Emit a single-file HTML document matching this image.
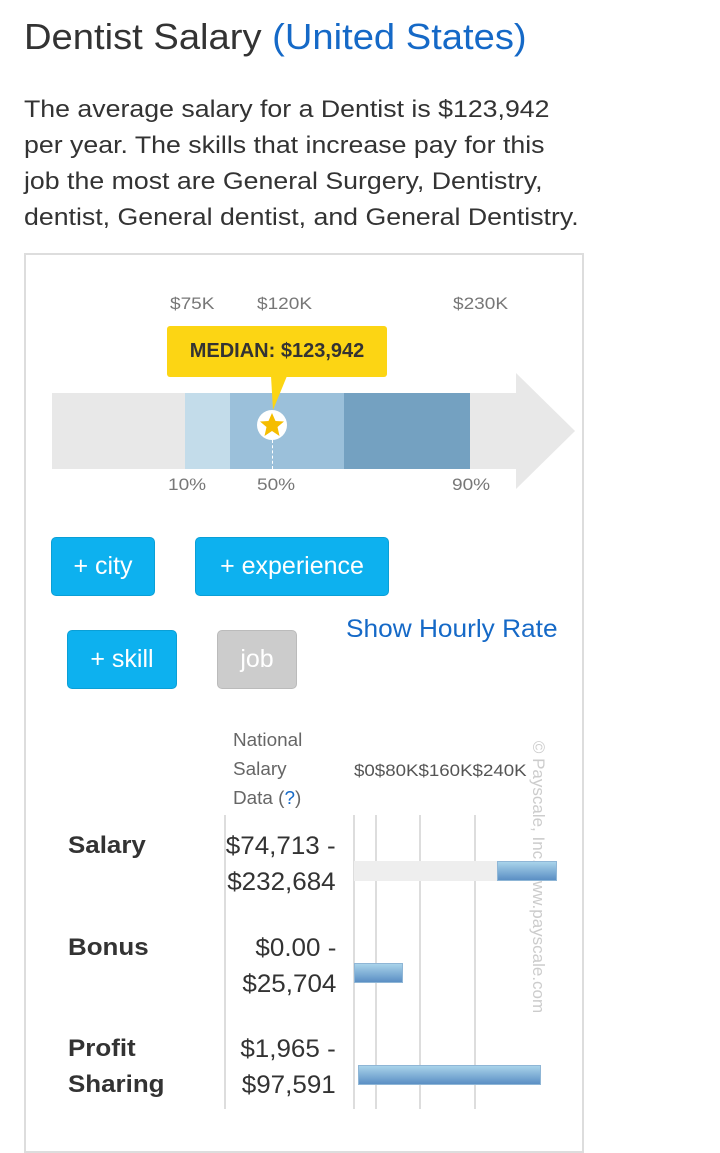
<!DOCTYPE html>
<html><head><meta charset="utf-8"><style>
*{margin:0;padding:0;box-sizing:border-box}
body{width:720px;height:1109px;background:#fff;position:relative;overflow:hidden;font-family:"Liberation Sans",sans-serif;color:#333}
.a{position:absolute;white-space:nowrap}
.btn{position:absolute;background:#0db1ef;border:1px solid #0a9fd6;border-radius:5px;color:#fff;font-size:25px;display:flex;align-items:center;justify-content:center}
.lbl{position:absolute;font-size:17px;color:#777;white-space:nowrap;transform:scaleX(1.12);transform-origin:left}
.vl{position:absolute;width:2px;background:#ddd;top:815px;height:294px}
.bar{position:absolute;background:linear-gradient(#a9d3ea,#5b8fc4);border:1px solid #8fb6d6}
.val{position:absolute;right:384px;font-size:25px;text-align:right;line-height:36px;color:#333;transform:scaleX(1.04);transform-origin:right}
.rl{position:absolute;left:68px;font-size:24px;font-weight:bold;line-height:36px;color:#333;transform:scaleX(1.08);transform-origin:left}
</style></head><body>
<div class="a" style="left:24px;top:16px;font-size:36px;color:#333;transform:scaleX(1.06);transform-origin:left">Dentist Salary <span style="color:#1569c7">(United States)</span></div>
<div class="a" style="left:24px;top:92px;font-size:24.5px;line-height:36px;color:#333;transform:scaleX(1.09);transform-origin:left">The average salary for a Dentist is $123,942<br>per year. The skills that increase pay for this<br>job the most are General Surgery, Dentistry,<br>dentist, General dentist, and General Dentistry.</div>

<div style="position:absolute;left:24px;top:253px;width:560px;height:900px;border:2px solid #ddd"></div>

<div class="lbl" style="left:170px;top:294px">$75K</div>
<div class="lbl" style="left:257px;top:294px">$120K</div>
<div class="lbl" style="left:453px;top:294px">$230K</div>

<div style="position:absolute;left:52px;top:393px;width:464px;height:76px;background:#e8e8e8"></div>
<div style="position:absolute;left:516px;top:373px;width:0;height:0;border-top:58px solid transparent;border-bottom:58px solid transparent;border-left:59px solid #e8e8e8"></div>
<div style="position:absolute;left:185px;top:393px;width:45px;height:76px;background:#c3dcea"></div>
<div style="position:absolute;left:230px;top:393px;width:114px;height:76px;background:#9bc0da"></div>
<div style="position:absolute;left:344px;top:393px;width:126px;height:76px;background:#74a1c1"></div>
<div style="position:absolute;left:272px;top:440px;width:0;height:29px;border-left:1px dashed #fff"></div>
<div style="position:absolute;left:167px;top:326px;width:220px;height:51px;background:#fcd514;border-radius:3px;font-size:20px;font-weight:bold;color:#333;display:flex;align-items:center;justify-content:center">MEDIAN: $123,942</div>
<svg style="position:absolute;left:0;top:0" width="720" height="500"><polygon points="271,376 287,376 273,410" fill="#fcd514"/><circle cx="272" cy="425" r="15" fill="#fff"/><polygon points="272,413 275.5,421 284,421.5 277.5,427 279.5,436 272,431 264.5,436 266.5,427 260,421.5 268.5,421" fill="#f5bd00"/></svg>

<div class="lbl" style="left:168px;top:475px">10%</div>
<div class="lbl" style="left:257px;top:475px">50%</div>
<div class="lbl" style="left:452px;top:475px">90%</div>

<div class="btn" style="left:51px;top:537px;width:104px;height:59px">+ city</div>
<div class="btn" style="left:195px;top:537px;width:194px;height:59px">+ experience</div>
<div class="btn" style="left:67px;top:630px;width:110px;height:59px">+ skill</div>
<div class="btn" style="left:217px;top:630px;width:80px;height:59px;background:#ccc;border-color:#bbb">job</div>
<div class="a" style="left:346px;top:615px;font-size:25px;color:#1569c7;transform:scaleX(1.05);transform-origin:left">Show Hourly Rate</div>

<div class="a" style="left:233px;top:726px;font-size:18px;line-height:29px;color:#666;transform:scaleX(1.05);transform-origin:left">National<br>Salary<br>Data (<span style="color:#1569c7">?</span>)</div>
<div class="a" style="left:354px;top:761px;font-size:17px;color:#555;transform:scaleX(1.1);transform-origin:left">$0$80K$160K$240K</div>
<div class="a" style="top:877px;left:538px;font-size:17px;color:#ccc;transform:translate(-50%,-50%) rotate(90deg);transform-origin:center">© Payscale, Inc. www.payscale.com</div>

<div class="vl" style="left:224px;background:#ddd"></div>
<div class="vl" style="left:353px"></div>
<div class="vl" style="left:375px"></div>
<div class="vl" style="left:419px"></div>
<div class="vl" style="left:474px"></div>

<div class="rl" style="top:828px">Salary</div>
<div class="val" style="top:828px">$74,713 -<br>$232,684</div>
<div style="position:absolute;left:354px;top:861px;width:143px;height:20px;background:#eee"></div>
<div class="bar" style="left:497px;top:861px;width:60px;height:20px"></div>

<div class="rl" style="top:930px">Bonus</div>
<div class="val" style="top:930px">$0.00 -<br>$25,704</div>
<div class="bar" style="left:354px;top:963px;width:49px;height:20px"></div>

<div class="rl" style="top:1031px">Profit<br>Sharing</div>
<div class="val" style="top:1031px">$1,965 -<br>$97,591</div>
<div class="bar" style="left:358px;top:1065px;width:183px;height:20px"></div>
</body></html>
